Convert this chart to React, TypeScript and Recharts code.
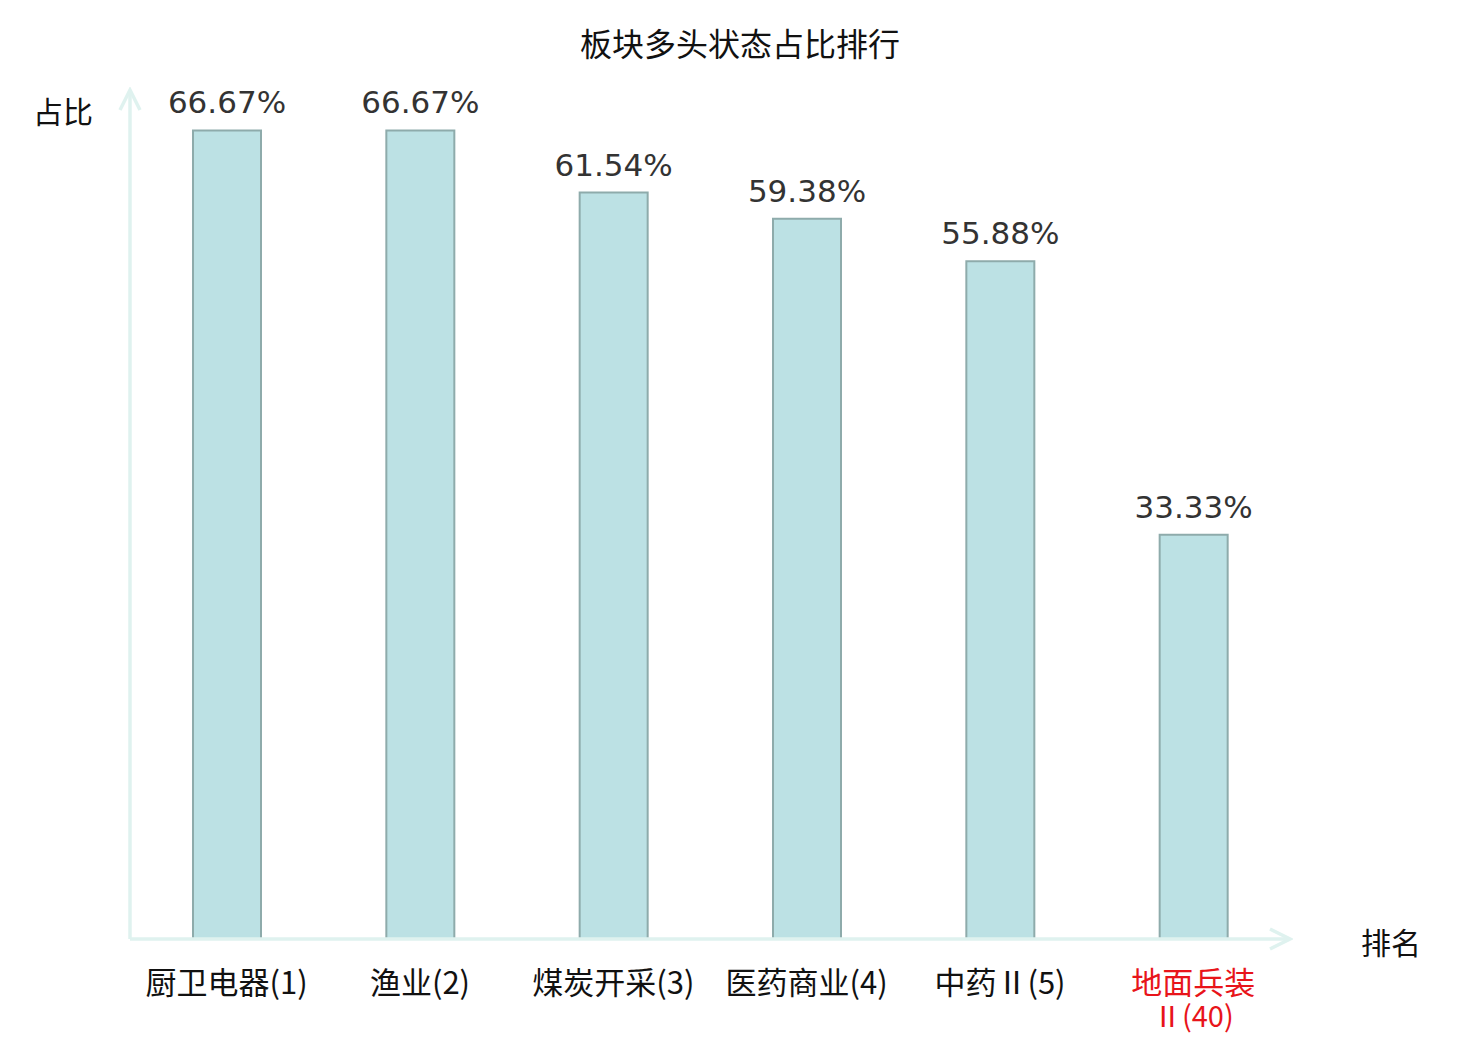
import React from 'react'
import { BarChart, Bar, XAxis, YAxis, LabelList } from 'recharts'

// sector names, rank shown in brackets; last one is the highlighted sector
const sectors = ['厨卫电器(1)', '渔业(2)', '煤炭开采(3)', '医药商业(4)', '中药Ⅱ(5)', '地面兵装Ⅱ(40)']
const ratios = [66.67, 66.67, 61.54, 59.38, 55.88, 33.33]
const highlight = '地面兵装Ⅱ(40)'
// manual line breaks for long tick labels
const tickLines: Record<string, string[]> = {
  '地面兵装Ⅱ(40)': ['地面兵装', 'Ⅱ(40)'],
}

const data = sectors.map((name, i) => ({ name, ratio: ratios[i] }))

const AXIS = '#dff2ef'
const CJK = '"Noto Sans CJK SC", "Noto Sans", sans-serif'

function SectorTick(props: any) {
  const { x, y, payload } = props
  const name: string = payload.value
  const lines = tickLines[name] ?? [name]
  const red = name === highlight
  return (
    <text
      x={x}
      y={y}
      textAnchor="middle"
      fontFamily={CJK}
      fontSize={31}
      fill={red ? '#e8141a' : '#111'}
    >
      {lines.map((line, i) => (
        <tspan key={i} x={x} dy={i === 0 ? 47 : 33} fontSize={i === 0 ? 31 : 29}>
          {line}
        </tspan>
      ))}
    </text>
  )
}

export default function App() {
  return (
    <div style={{ position: 'absolute', left: 0, top: 0, width: 1480, height: 1040, background: '#fff' }}>
      <svg width={0} height={0} style={{ position: 'absolute' }}>
        <defs>
          <marker
            id="axisArrow"
            markerUnits="userSpaceOnUse"
            markerWidth={24}
            markerHeight={26}
            refX={21}
            refY={12}
            orient="auto-start-reverse"
          >
            <path d="M1,2 L21,12 L1,22" fill="none" stroke={AXIS} strokeWidth={3.5} />
          </marker>
        </defs>
      </svg>
      <div
        style={{
          position: 'absolute',
          left: 0,
          top: 22,
          width: 1480,
          textAlign: 'center',
          fontFamily: CJK,
          fontSize: 32,
          color: '#111',
          lineHeight: '40px',
        }}
      >
        板块多头状态占比排行
      </div>
      <div style={{ position: 'absolute', left: 33, top: 90, fontFamily: CJK, fontSize: 30, color: '#111', lineHeight: '40px' }}>
        占比
      </div>
      <div style={{ position: 'absolute', left: 1361, top: 921, fontFamily: CJK, fontSize: 30, color: '#111', lineHeight: '40px' }}>
        排名
      </div>
      <BarChart
        width={1480}
        height={1040}
        data={data}
        margin={{ top: 90, right: 190, bottom: 0, left: 70 }}
        barSize={68}
        style={{ position: 'absolute', left: 0, top: 0 }}
      >
        <XAxis
          dataKey="name"
          interval={0}
          tickLine={false}
          axisLine={{ stroke: AXIS, strokeWidth: 3.5, markerEnd: 'url(#axisArrow)' }}
          tick={<SectorTick />}
          height={101}
        />
        <YAxis
          width={60}
          domain={[0, 70]}
          tick={false}
          tickLine={false}
          axisLine={{ stroke: AXIS, strokeWidth: 3.5, markerStart: 'url(#axisArrow)' }}
        />
        <Bar dataKey="ratio" fill="#bce1e4" stroke="#8eabab" strokeWidth={2} isAnimationActive={false}>
          <LabelList
            dataKey="ratio"
            position="top"
            offset={17}
            formatter={(v: any) => `${Number(v).toFixed(2)}%`}
            fill="#333"
            fontSize={31}
            fontFamily='"DejaVu Sans", sans-serif'
          />
        </Bar>
      </BarChart>
    </div>
  )
}
